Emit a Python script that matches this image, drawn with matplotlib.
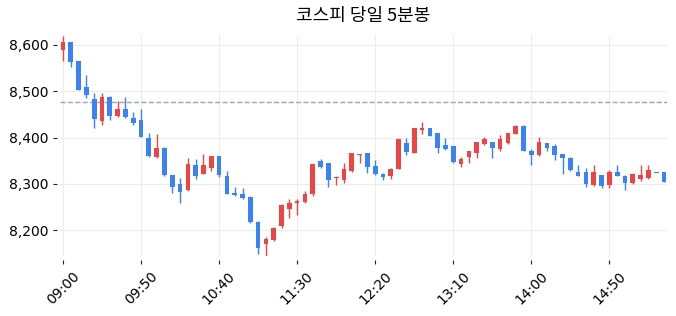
import numpy as np
import pandas as pd
import matplotlib
matplotlib.use('Agg')
import matplotlib.pyplot as plt
from matplotlib.ticker import FuncFormatter

# 5-minute candles, 09:00 onward
opens = [8590, 8606, 8565, 8509, 8483, 8435, 8488, 8447, 8462, 8442,
         8437, 8399, 8357, 8378, 8319, 8300, 8287, 8341, 8322, 8334,
         8359, 8316, 8281, 8277, 8271, 8218, 8169, 8178, 8208, 8245,
         8258, 8260, 8277, 8349, 8344, 8313, 8309, 8328, 8363, 8366,
         8338, 8322, 8317, 8332, 8388, 8367, 8417, 8420, 8409, 8383,
         8381, 8343, 8358, 8367, 8386, 8390, 8375, 8388, 8408, 8425,
         8370, 8362, 8388, 8381, 8364, 8355, 8325, 8325, 8297, 8318,
         8297, 8325, 8316, 8301, 8310, 8312, 8324, 8325]
highs = [8619, 8607, 8566, 8535, 8496, 8496, 8489, 8479, 8488, 8456,
         8461, 8409, 8407, 8379, 8320, 8312, 8356, 8354, 8364, 8360,
         8360, 8327, 8293, 8291, 8274, 8220, 8185, 8207, 8256, 8268,
         8267, 8285, 8343, 8354, 8345, 8317, 8346, 8367, 8365, 8367,
         8351, 8323, 8335, 8397, 8398, 8421, 8433, 8421, 8410, 8398,
         8382, 8357, 8371, 8391, 8401, 8391, 8405, 8410, 8426, 8426,
         8375, 8402, 8389, 8385, 8365, 8358, 8341, 8335, 8341, 8319,
         8329, 8341, 8320, 8323, 8341, 8341, 8324, 8326]
lows = [8566, 8552, 8502, 8485, 8420, 8428, 8437, 8445, 8443, 8426,
        8401, 8358, 8356, 8317, 8280, 8258, 8285, 8310, 8321, 8328,
        8315, 8277, 8274, 8268, 8216, 8148, 8143, 8177, 8204, 8226,
        8233, 8259, 8273, 8335, 8293, 8297, 8301, 8326, 8346, 8324,
        8320, 8309, 8311, 8331, 8363, 8366, 8407, 8403, 8367, 8374,
        8346, 8337, 8346, 8356, 8384, 8356, 8371, 8387, 8407, 8370,
        8341, 8361, 8371, 8352, 8322, 8327, 8316, 8293, 8296, 8292,
        8291, 8316, 8287, 8300, 8307, 8311, 8323, 8303]
closes = [8606, 8563, 8503, 8491, 8439, 8488, 8447, 8462, 8445, 8432,
          8402, 8359, 8378, 8318, 8294, 8283, 8343, 8316, 8341, 8359,
          8318, 8278, 8275, 8269, 8217, 8162, 8180, 8205, 8255, 8259,
          8262, 8279, 8342, 8336, 8308, 8314, 8331, 8366, 8364, 8336,
          8321, 8314, 8331, 8396, 8369, 8420, 8420, 8404, 8378, 8375,
          8347, 8353, 8370, 8390, 8396, 8378, 8396, 8409, 8425, 8371,
          8362, 8390, 8378, 8362, 8356, 8329, 8317, 8299, 8325, 8295,
          8325, 8317, 8301, 8322, 8320, 8329, 8324, 8304]
prev_close = 8476
times = pd.date_range('09:00', periods=len(opens), freq='5min').strftime('%H:%M')

UP = '#ef4444'
DOWN = '#3b82f6'

fig = plt.figure(figsize=(6.76, 3.16), dpi=100)
ax = fig.add_axes([60 / 676, 1 - 256 / 316, 607.3 / 676, 221 / 316])

o = np.array(opens)
c = np.array(closes)
x = np.arange(len(o))
colors = [UP if cc > oo else DOWN for oo, cc in zip(o, c)]

ax.vlines(x, lows, highs, colors=colors, linewidth=1, zorder=2)
ax.bar(x, np.maximum(np.abs(c - o), 0.8), bottom=np.minimum(o, c),
       width=0.6, color=colors, linewidth=0, zorder=3)

ax.axhline(prev_close, color='#9ca3b4', linestyle='--', linewidth=1, zorder=1)

ax.set_xlim(-0.38, len(o) - 1 + 0.42)
ax.set_ylim(8144, 8621.5)

ticks = x[::10]
ax.set_xticks(ticks)
ax.set_xticklabels([times[i] for i in ticks], fontsize=10)
ax.set_yticks([8200, 8300, 8400, 8500, 8600])
ax.yaxis.set_major_formatter(FuncFormatter(lambda v, p: f'{v:,.0f}'))
ax.tick_params(axis='y', labelsize=10, length=3, color='#222222')
ax.tick_params(axis='x', length=3, color='#222222', labelrotation=45)

ax.grid(True, color='#ececec', linewidth=0.8, zorder=0)
ax.set_axisbelow(True)
for s in ax.spines.values():
    s.set_visible(False)
ax.spines['left'].set_position(('outward', 2))
ax.spines['bottom'].set_position(('outward', 3))

fig.text(0.5 * (60 + 667.3) / 676, 1 - 16 / 316, '코스피 당일 5분봉',
         ha='center', va='center', fontsize=13,
         family=['Noto Sans CJK KR', 'DejaVu Sans'])

fig.savefig('out.png', dpi=100)
